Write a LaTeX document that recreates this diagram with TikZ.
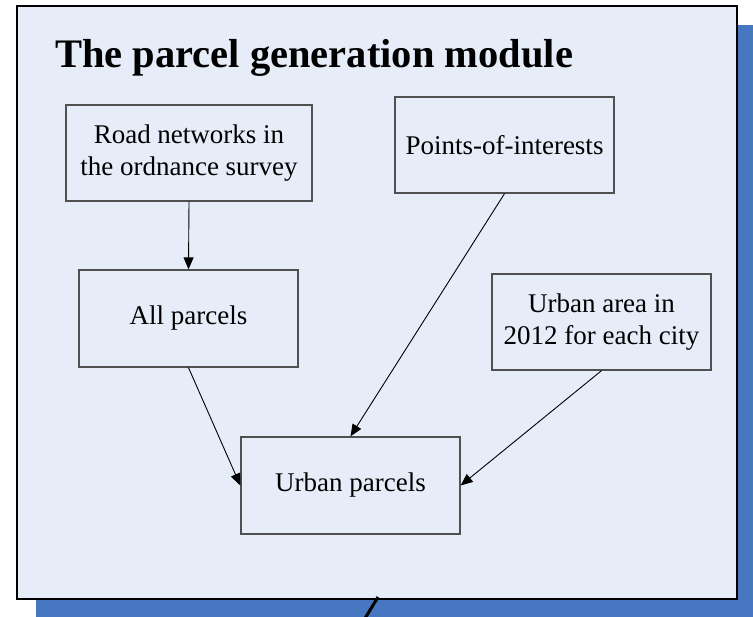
\documentclass[tikz,border=0pt]{standalone}
\usepackage{fontspec}
\setmainfont{Liberation Serif}
\usetikzlibrary{arrows.meta}
\definecolor{panelfill}{HTML}{E6EDF8}
\definecolor{shadowblue}{HTML}{4677C0}
\definecolor{boxline}{HTML}{505050}
\tikzset{
  stepbox/.style={draw=boxline, line width=1.3pt, rectangle, inner sep=0pt,
    minimum width=219pt, minimum height=96pt, align=center,
    font=\fontsize{27}{32}\selectfont},
  flow/.style={draw=black, line width=0.9pt, -{Triangle[length=12pt,width=10pt]}}
}
\begin{document}
\begin{tikzpicture}[x=1pt,y=-1pt]
\useasboundingbox (0,0) rectangle (753,617);
\clip (0,0) rectangle (753,617);
% shadow and panel
\fill[shadowblue] (36,25) rectangle (760,625);
\draw[fill=panelfill, draw=black, line width=1.3pt] (17,6) rectangle (737,599);
% title
\node[anchor=base west, inner sep=0pt, font=\fontsize{40.5}{46}\selectfont\bfseries] (title) at (55,68) {The parcel generation module};
% boxes
\node[stepbox, minimum width=246pt] (road) at (189,153) {Road networks in\\the ordnance survey};
\node[stepbox] (poi) at (504.5,145) {Points-of-interests};
\node[stepbox, minimum height=97pt] (all) at (188.5,318.5) {All parcels};
\node[stepbox] (area) at (601.5,322) {Urban area in\\2012 for each city};
\node[stepbox, minimum height=97pt] (urban) at (350.5,485.5) {Urban parcels};
% connectors
\draw[flow] (road.south) -- (all.north);
\draw[flow] (all.south) -- (urban.west);
\draw[flow] (poi.south) -- (urban.north);
\draw[flow] (area.south) -- (urban.east);
% stray slash at the bottom
\coordinate (s1) at (378,597);
\coordinate (s2) at (364,620);
\draw[black, line width=3pt] (s1) -- (s2);
\end{tikzpicture}
\end{document}
